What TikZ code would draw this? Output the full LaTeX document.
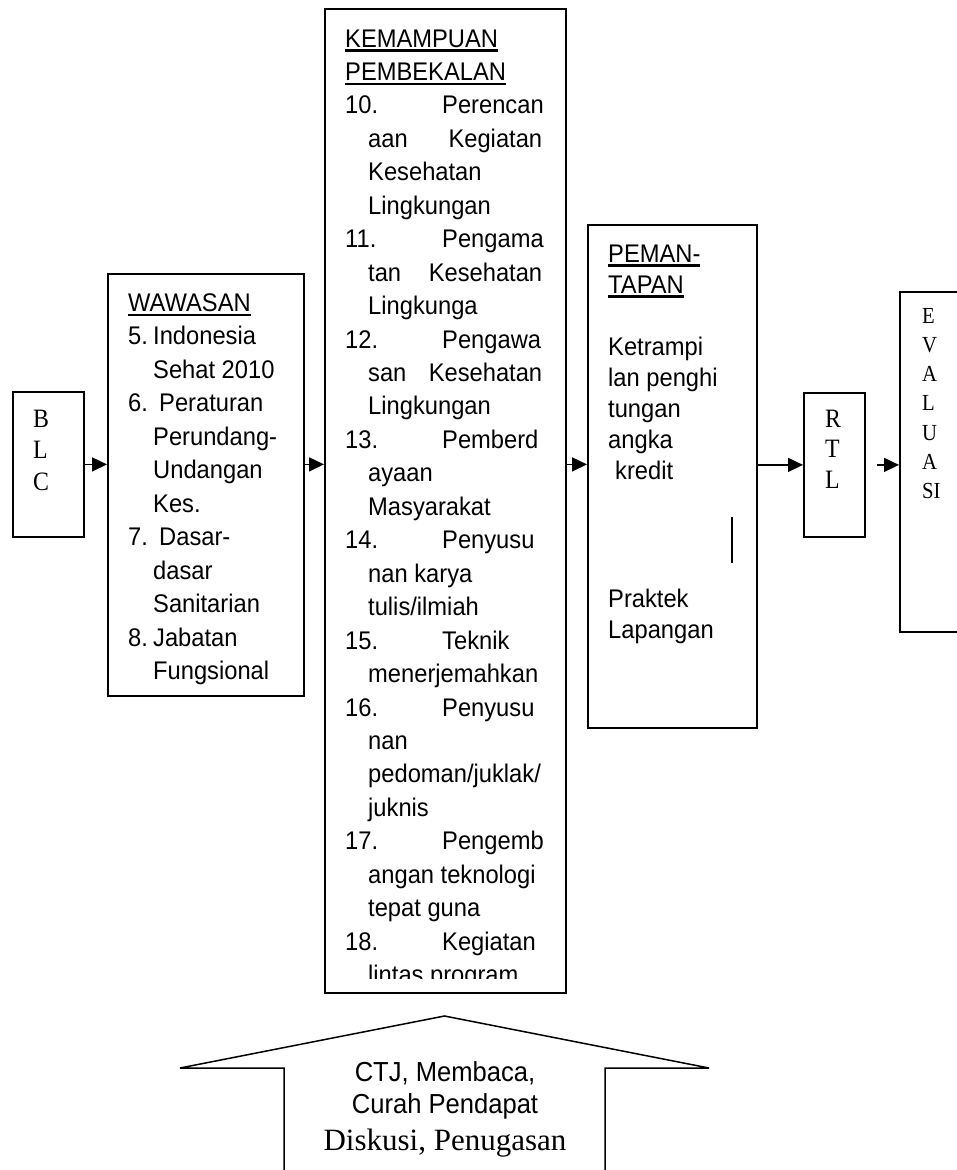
\documentclass[tikz,border=0pt]{standalone}
\usepackage{fontspec}
\setmainfont{Liberation Serif}[FakeStretch=0.9]
\setsansfont{Liberation Sans}[FakeStretch=0.93]
\newfontfamily\serifbiasa{Liberation Serif}
\usetikzlibrary{arrows.meta}

\newcommand{\garis}[1]{\leavevmode\setbox0\hbox{#1}\rlap{\rule[-4.5pt]{\wd0}{2.2pt}}\box0}
\newcommand{\nomor}[2][97pt]{\makebox[#1][l]{#2}}
\newcommand{\rata}[1]{\makebox[174pt][l]{#1}}
\newcommand{\teks}[3]{\parbox[t]{300pt}{\fontsize{#1}{#2}\selectfont #3}}

\begin{document}
\begin{tikzpicture}[x=1pt, y=-1pt,
    kotak/.style={draw, line width=1.8pt, anchor=north west, inner sep=0pt},
    isi/.style={anchor=base west, inner sep=0pt, font=\sffamily},
    huruf/.style={anchor=base west, inner sep=0pt, font=\rmfamily},
    panah/.style={line width=1.6pt, -{Triangle[length=15pt,width=14pt]}}]

\useasboundingbox (0,0) rectangle (957,1170);

\node[kotak, minimum width=71pt, minimum height=145pt] (blc) at (12,391) {};
\node[kotak, minimum width=196pt, minimum height=422pt] (wawasan) at (107,273) {};
\node[kotak, minimum width=241pt, minimum height=984pt] (kemampuan) at (324,8) {};
\node[kotak, minimum width=169pt, minimum height=503pt] (pemantapan) at (587,224) {};
\node[kotak, minimum width=61pt, minimum height=144pt] (rtl) at (803,392) {};
\node[kotak, minimum width=90pt, minimum height=340pt] (evaluasi) at (899,291) {};

\node[huruf] (blcIsi) at (33,427) {\teks{26.5}{31.5}{B\\L\\C}};
\node[huruf] (rtlIsi) at (825,427) {\teks{26.5}{30.5}{R\\T\\L}};
\node[huruf] (evaluasiIsi) at (922,323) {\teks{23}{29.3}{E\\V\\A\\L\\U\\A\\SI}};

\node[isi] (wawasanIsi) at (128,311.5) {\teks{25.5}{33.45}{\garis{WAWASAN}\\
  \nomor[25pt]{5.}Indonesia\\
  \hspace*{25pt}Sehat 2010\\
  \nomor[31pt]{6.}Peraturan\\
  \hspace*{25pt}Perundang-\\
  \hspace*{25pt}Undangan\\
  \hspace*{25pt}Kes.\\
  \nomor[31pt]{7.}Dasar-\\
  \hspace*{25pt}dasar\\
  \hspace*{25pt}Sanitarian\\
  \nomor[25pt]{8.}Jabatan\\
  \hspace*{25pt}Fungsional}};

\begin{scope}
  \clip (324,8) rectangle (565,978);
  \node[isi] (kemampuanIsi) at (345,47) {\teks{25.5}{33.45}{\garis{KEMAMPUAN}\\
    \garis{PEMBEKALAN}\\
    \nomor{10.}Perencan\\
    \hspace*{23pt}\rata{aan\hfill Kegiatan}\\
    \hspace*{23pt}Kesehatan\\
    \hspace*{23pt}Lingkungan\\
    \nomor{11.}Pengama\\
    \hspace*{23pt}\rata{tan\hfill Kesehatan}\\
    \hspace*{23pt}Lingkunga\\
    \nomor{12.}Pengawa\\
    \hspace*{23pt}\rata{san\hfill Kesehatan}\\
    \hspace*{23pt}Lingkungan\\
    \nomor{13.}Pemberd\\
    \hspace*{23pt}ayaan\\
    \hspace*{23pt}Masyarakat\\
    \nomor{14.}Penyusu\\
    \hspace*{23pt}nan karya\\
    \hspace*{23pt}tulis/ilmiah\\
    \nomor{15.}Teknik\\
    \hspace*{23pt}menerjemahkan\\
    \nomor{16.}Penyusu\\
    \hspace*{23pt}nan\\
    \hspace*{23pt}pedoman/juklak/\\
    \hspace*{23pt}juknis\\
    \nomor{17.}Pengemb\\
    \hspace*{23pt}angan teknologi\\
    \hspace*{23pt}tepat guna\\
    \nomor{18.}Kegiatan\\
    \hspace*{23pt}lintas program}};
\end{scope}

\node[isi] (pemantapanIsi) at (608,262) {\teks{25.5}{31}{\garis{PEMAN-}\\
  \garis{TAPAN}\\[31pt]
  Ketrampi\\
  lan penghi\\
  tungan\\
  angka\\
  \hspace*{7pt}kredit\\[97pt]
  Praktek\\
  Lapangan}};
\draw[line width=1.5pt] (732,517) -- (732,563);

\draw[panah] (blc.east) -- (blc.east -| wawasan.west);
\draw[panah] (wawasan.east |- blc.east) -- (kemampuan.west |- blc.east);
\draw[panah] (kemampuan.east |- blc.east) -- (pemantapan.west |- blc.east);
\draw[panah] (pemantapan.east |- rtl.west) -- (rtl.west);
\coordinate (celah) at ([xshift=11pt]rtl.east);
\draw[panah] (celah) -- (celah -| evaluasi.west);

\coordinate (puncak) at (444.5,1016);
\draw[line width=1.5pt] (284,1175) -- (284,1068) -- (180,1068) -- (puncak)
  -- (709,1068) -- (605,1068) -- (605,1175);
\node[anchor=base, inner sep=0pt, font=\sffamily] (metode) at (445,1081)
  {\teks{27.5}{32}{\centering CTJ, Membaca,\\ Curah Pendapat\\[5pt]
   {\serifbiasa\fontsize{31}{31}\selectfont Diskusi, Penugasan}}};

\end{tikzpicture}
\end{document}
